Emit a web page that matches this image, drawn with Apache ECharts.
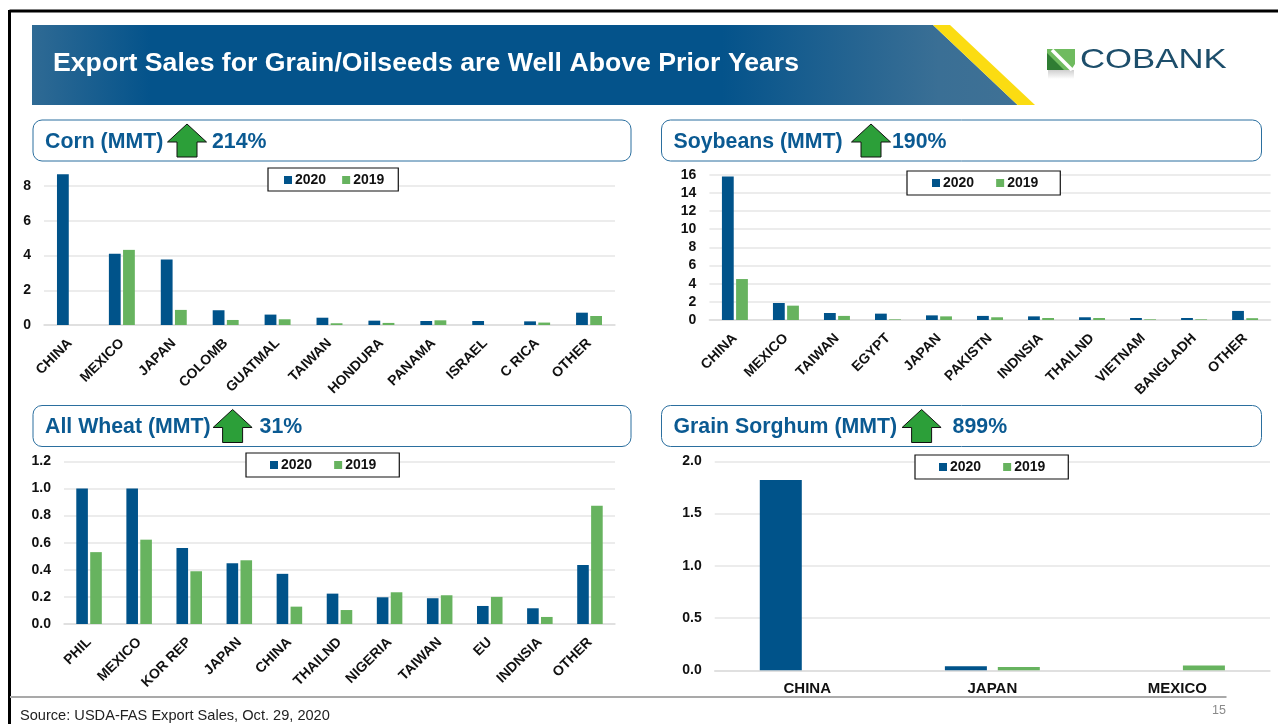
<!DOCTYPE html>
<html>
<head>
<meta charset="utf-8">
<title>Export Sales</title>
<script src="https://cdn.jsdelivr.net/npm/echarts@6/dist/echarts.min.js"></script>
<style>
  html, body { margin: 0; padding: 0; background: #fff; }
  #chart { width: 1278px; height: 724px; }
</style>
</head>
<body>
<div id="chart"></div>
<script>
var cornCategories = ["CHINA", "MEXICO", "JAPAN", "COLOMB", "GUATMAL", "TAIWAN", "HONDURA", "PANAMA", "ISRAEL", "C RICA", "OTHER"];
var corn2020 = [8.69, 4.1, 3.77, 0.85, 0.6, 0.42, 0.25, 0.23, 0.23, 0.21, 0.71];
var corn2019 = [0, 4.33, 0.87, 0.29, 0.33, 0.1, 0.12, 0.27, 0, 0.14, 0.52];

var soyCategories = ["CHINA", "MEXICO", "TAIWAN", "EGYPT", "JAPAN", "PAKISTN", "INDNSIA", "THAILND", "VIETNAM", "BANGLADH", "OTHER"];
var soy2020 = [15.8, 1.87, 0.77, 0.7, 0.51, 0.45, 0.4, 0.3, 0.22, 0.22, 1.0];
var soy2019 = [4.51, 1.58, 0.45, 0.07, 0.4, 0.3, 0.22, 0.22, 0.07, 0.07, 0.2];

var wheatCategories = ["PHIL", "MEXICO", "KOR REP", "JAPAN", "CHINA", "THAILND", "NIGERIA", "TAIWAN", "EU", "INDNSIA", "OTHER"];
var wheat2020 = [1.0, 1.0, 0.56, 0.448, 0.37, 0.224, 0.197, 0.19, 0.133, 0.116, 0.435];
var wheat2019 = [0.53, 0.622, 0.389, 0.47, 0.128, 0.103, 0.234, 0.212, 0.2, 0.052, 0.873];

var sorghumCategories = ["CHINA", "JAPAN", "MEXICO"];
var sorghum2020 = [1.82, 0.038, 0];
var sorghum2019 = [0, 0.032, 0.045];

var BLUE = "#00538a";
var GREEN = "#67b35f";
var TITLE_BLUE = "#0b5a92";
var FONT = '"Liberation Sans", Arial, sans-serif';

var panels = [
  { cats: cornCategories, a: corn2020, b: corn2019, rotate: 45, barWidth: 11.8, barGap: "20%",
    left: 44, right: 615, top: 168.85, bottom: 325, max: 9, interval: 2, digits: 0, hideMax: true,
    legend: { left: 268, top: 168, gap: 16, pad: [5, 14, 4, 16] } },
  { cats: soyCategories, a: soy2020, b: soy2019, rotate: 45, barWidth: 11.8, barGap: "20%",
    left: 709.4, right: 1270.6, top: 174.7, bottom: 320, max: 16, interval: 2, digits: 0,
    legend: { left: 907, top: 171, gap: 22, pad: [5, 22, 5, 25] } },
  { cats: wheatCategories, a: wheat2020, b: wheat2019, rotate: 45, barWidth: 11.6, barGap: "20%",
    left: 64, right: 615, top: 461.3, bottom: 624, max: 1.2, interval: 0.2, digits: 1,
    legend: { left: 246, top: 453, gap: 22, pad: [5, 23, 5, 24] } },
  { cats: sorghumCategories, a: sorghum2020, b: sorghum2019, rotate: 0, barWidth: 42, barGap: "26%",
    left: 714.7, right: 1270, top: 461.3, bottom: 670.3, max: 2, interval: 0.5, digits: 1,
    legend: { left: 915, top: 455, gap: 22, pad: [5, 23, 5, 24] } }
];

var headers = [
  { name: "Corn (MMT)", pct: "214%", x: 33, y: 120, w: 598, arrowX: 187, pctX: 212 },
  { name: "Soybeans (MMT)", pct: "190%", x: 661.5, y: 120, w: 600, arrowX: 871, pctX: 892 },
  { name: "All Wheat (MMT)", pct: "31%", x: 33, y: 405.5, w: 598, arrowX: 232.6, pctX: 259.6 },
  { name: "Grain Sorghum (MMT)", pct: "899%", x: 661.5, y: 405.5, w: 600, arrowX: 921.6, pctX: 952.6 }
];

var grids = [], xAxes = [], yAxes = [], series = [], legends = [];
panels.forEach(function (p, i) {
  grids.push({ left: p.left, width: p.right - p.left, top: p.top, height: p.bottom - p.top, containLabel: false });
  xAxes.push({
    type: "category", gridIndex: i, data: p.cats,
    axisTick: { show: false },
    axisLine: { lineStyle: { color: "#dcdcdc", width: 1.5 } },
    axisLabel: { interval: 0, rotate: p.rotate, margin: p.rotate ? 16 : 11, color: "#111", fontFamily: FONT, fontWeight: "bold", fontSize: p.rotate ? 14 : 15 }
  });
  yAxes.push({
    type: "value", gridIndex: i, min: 0, max: p.max, interval: p.interval,
    axisLine: { show: false },
    axisTick: { show: false },
    splitLine: { showMaxLine: !p.hideMax, lineStyle: { color: "#e6e6e6", width: 1.5 } },
    axisLabel: {
      margin: 13, color: "#111", fontFamily: FONT, fontWeight: "bold", fontSize: 14, showMaxLabel: !p.hideMax,
      formatter: function (v) { return v.toFixed(p.digits); }
    }
  });
  series.push({ name: "2020", type: "bar", xAxisIndex: i, yAxisIndex: i, data: p.a, barWidth: p.barWidth, barGap: p.barGap, itemStyle: { color: BLUE }, silent: true });
  series.push({ name: "2019", type: "bar", xAxisIndex: i, yAxisIndex: i, data: p.b, barWidth: p.barWidth, barGap: p.barGap, itemStyle: { color: GREEN }, silent: true });
  legends.push({
    left: p.legend.left, top: p.legend.top, data: ["2020", "2019"], selectedMode: false, icon: "rect",
    itemWidth: 8, itemHeight: 8, itemGap: p.legend.gap, padding: p.legend.pad,
    backgroundColor: "#fff", borderColor: "#111", borderWidth: 1.2,
    textStyle: { color: "#111", fontFamily: FONT, fontWeight: "bold", fontSize: 14, padding: [0, 0, 0, -2] }
  });
});

// slide furniture
function arrow(cx, top) {
  return {
    type: "polygon", z: 5,
    shape: { points: [[cx, top], [cx + 19.5, top + 18], [cx + 10, top + 18], [cx + 10, top + 33], [cx - 10, top + 33], [cx - 10, top + 18], [cx - 19.5, top + 18]] },
    style: { fill: "#2c9f39", stroke: "#111", lineWidth: 1 }
  };
}

var furniture = [
  { type: "rect", shape: { x: 9.5, y: 11, width: 1268.5, height: 0 }, style: { stroke: "#000", lineWidth: 3 } },
  { type: "rect", shape: { x: 9.5, y: 10, width: 0, height: 714 }, style: { stroke: "#000", lineWidth: 3 } },
  {
    type: "polygon", shape: { points: [[32, 25], [933, 25], [1017.6, 105], [32, 105]] },
    style: {
      fill: new echarts.graphic.LinearGradient(0, 0, 1, 0, [
        { offset: 0, color: "#2f6a94" }, { offset: 0.12, color: "#04538b" },
        { offset: 0.7, color: "#04538b" }, { offset: 0.92, color: "#3a6f95" }, { offset: 1, color: "#3f7195" }
      ])
    }
  },
  { type: "polygon", shape: { points: [[933, 25], [950, 25], [1035, 105], [1017.6, 105]] }, style: { fill: "#fbdc12" } },
  { type: "text", x: 53, y: 64, scaleX: 1.025, style: { text: "Export Sales for Grain/Oilseeds are Well Above Prior Years", fill: "#fff", font: "bold 26px " + FONT, textVerticalAlign: "middle" } },
  // logo
  {
    type: "rect", shape: { x: 1048, y: 70, width: 26, height: 9 },
    style: { fill: new echarts.graphic.LinearGradient(0, 0, 0, 1, [{ offset: 0, color: "#cfcfcf" }, { offset: 1, color: "#ffffff" }]) }
  },
  { type: "polygon", shape: { points: [[1047, 49], [1075, 49], [1075, 64], [1071, 70], [1047, 70]] }, style: { fill: "#6fbb5f" } },
  { type: "polygon", shape: { points: [[1047, 53], [1064, 70], [1047, 70]] }, style: { fill: "#2f7d33" } },
  { type: "polyline", shape: { points: [[1052, 50], [1072, 70]] }, style: { stroke: "#fff", lineWidth: 3.5, fill: null } },
  { type: "text", x: 1080, y: 60, scaleX: 1.24, style: { text: "COBANK", fill: "#1d4e6b", font: "28px " + FONT, textVerticalAlign: "middle" } },
  { type: "rect", shape: { x: 10, y: 696, width: 1216.5, height: 2 }, style: { fill: "#a9a9a9" } },
  { type: "text", x: 20, y: 716, style: { text: "Source: USDA-FAS Export Sales, Oct. 29, 2020", fill: "#222", font: "14.6px " + FONT, textVerticalAlign: "middle" } },
  { type: "text", x: 1226, y: 711, style: { text: "15", fill: "#8a8a8a", font: "12.5px " + FONT, textAlign: "right", textVerticalAlign: "middle" } }
];

headers.forEach(function (h) {
  furniture.push({ type: "rect", shape: { x: h.x, y: h.y, width: h.w, height: 41, r: 9 }, style: { fill: "#fff", stroke: "#2b6f9f", lineWidth: 1 } });
  furniture.push({ type: "text", x: h.x + 12, y: h.y + 22, style: { text: h.name, fill: TITLE_BLUE, font: "bold 21.3px " + FONT, textVerticalAlign: "middle" } });
  furniture.push({ type: "text", x: h.pctX, y: h.y + 22, style: { text: h.pct, fill: TITLE_BLUE, font: "bold 21.3px " + FONT, textVerticalAlign: "middle" } });
  furniture.push(arrow(h.arrowX, h.y + 4));
});

var chart = echarts.init(document.getElementById("chart"), null, { renderer: "canvas" });
chart.setOption({
  animation: false,
  backgroundColor: "#fff",
  grid: grids,
  xAxis: xAxes,
  yAxis: yAxes,
  legend: legends,
  series: series,
  graphic: { elements: furniture }
});
</script>
</body>
</html>
